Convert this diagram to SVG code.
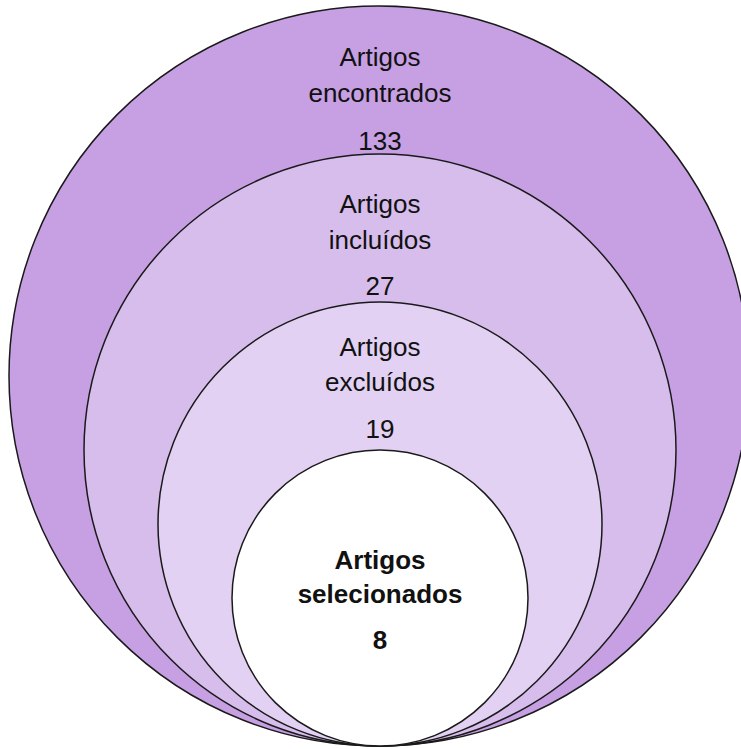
<svg xmlns="http://www.w3.org/2000/svg" width="741" height="749" viewBox="0 0 741 749">
<style>
.c{stroke:#1a1a1a;stroke-width:1.5}
.t{font-family:"Liberation Sans",Arial,sans-serif;font-size:26px;fill:#111;text-anchor:middle}
.b{font-weight:bold}
</style>
<rect width="741" height="749" fill="#ffffff"/>
<g id="encontrados">
<circle class="c" cx="379" cy="376" r="370" fill="#C6A0E3"/>
<text class="t" x="380" y="66">Artigos</text>
<text class="t" x="380" y="102">encontrados</text>
<text class="t" x="380" y="150">133</text>
</g>
<g id="incluidos">
<circle class="c" cx="380" cy="450" r="296" fill="#D7BDEB"/>
<text class="t" x="380" y="213">Artigos</text>
<text class="t" x="380" y="249">incluídos</text>
<text class="t" x="380" y="295">27</text>
</g>
<g id="excluidos">
<circle class="c" cx="380" cy="524" r="222" fill="#E2D1F3"/>
<text class="t" x="380" y="356">Artigos</text>
<text class="t" x="380" y="391">excluídos</text>
<text class="t" x="380" y="438">19</text>
</g>
<g id="selecionados">
<circle class="c" cx="380" cy="598" r="148" fill="#ffffff"/>
<text class="t b" x="380" y="569">Artigos</text>
<text class="t b" x="380" y="603">selecionados</text>
<text class="t b" x="380" y="649">8</text>
</g>
<g id="connectors"/>
</svg>
